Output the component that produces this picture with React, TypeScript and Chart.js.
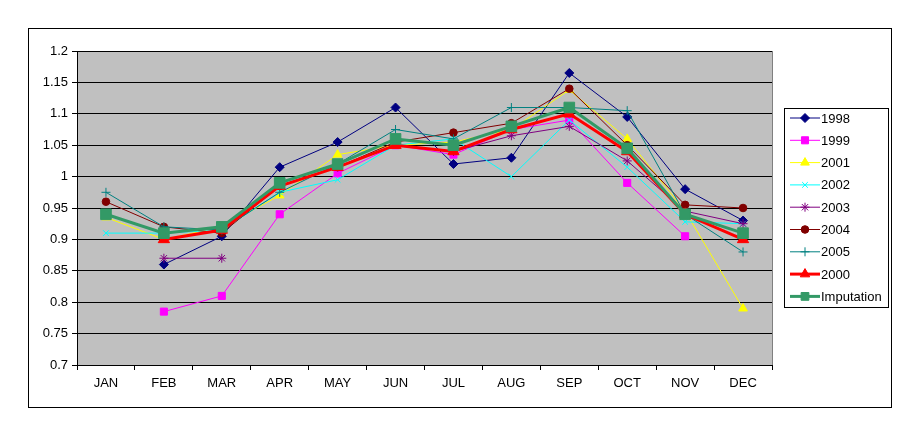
import React, { useEffect, useRef } from "react";
import { Chart, registerables } from "chart.js";
import { drawPoint } from "chart.js/helpers";

Chart.register(...registerables);

const months = ["JAN", "FEB", "MAR", "APR", "MAY", "JUN", "JUL", "AUG", "SEP", "OCT", "NOV", "DEC"];

const y1998 = [null, 0.86, 0.905, 1.015, 1.055, 1.11, 1.02, 1.03, 1.165, 1.095, 0.98, 0.93];
const y1999 = [null, 0.785, 0.81, 0.94, 1.005, 1.05, 1.035, 1.075, 1.09, 0.99, 0.905, null];
const y2001 = [0.935, 0.9, 0.92, 0.97, 1.035, 1.05, 1.055, 1.075, 1.138, 1.06, 0.945, 0.79];
const y2002 = [0.91, 0.91, 0.915, 0.975, 0.995, 1.05, 1.06, 1.0, 1.09, 1.015, 0.928, 0.925];
const y2003 = [null, 0.87, 0.87, null, null, null, 1.04, 1.065, 1.08, 1.025, 0.945, 0.925];
const y2004 = [0.96, 0.92, 0.91, 0.985, 1.015, 1.055, 1.07, 1.085, 1.14, 1.05, 0.955, 0.95];
const y2005 = [0.975, 0.92, 0.915, 0.975, 1.02, 1.075, 1.06, 1.11, 1.11, 1.105, 0.94, 0.88];
const y2000 = [null, 0.9, 0.915, 0.985, 1.015, 1.05, 1.04, 1.075, 1.1, 1.04, 0.94, 0.9];
const imputation = [0.94, 0.91, 0.92, 0.99, 1.02, 1.06, 1.05, 1.08, 1.11, 1.045, 0.94, 0.91];

const seriesNames = ["1998", "1999", "2001", "2002", "2003", "2004", "2005", "2000", "Imputation"];
const seriesData = [y1998, y1999, y2001, y2002, y2003, y2004, y2005, y2000, imputation];
const seriesColors = ["#000080", "#FF00FF", "#FFFF00", "#00FFFF", "#800080", "#800000", "#008080", "#FF0000", "#339966"];
const seriesStyles = ["rectRot", "rect", "triangle", "crossRot", "star", "circle", "cross", "triangle", "rect"];
const seriesRadius = [4.5, 5, 5, 4, 4.5, 3.8, 4.5, 6.5, 7.5];
const seriesWidth = [1, 1, 1, 1, 1, 1, 1, 3, 3];

const FONT = "'Liberation Sans', Arial, sans-serif";

const framePlugin = {
  id: "frame",
  beforeDraw(chart: any) {
    const { ctx, chartArea, width, height } = chart;
    ctx.save();
    ctx.fillStyle = "#FFFFFF";
    ctx.fillRect(0, 0, width, height);
    ctx.strokeStyle = "#000000";
    ctx.lineWidth = 1;
    ctx.strokeRect(28.5, 28.5, 863, 379);
    ctx.fillStyle = "#C0C0C0";
    ctx.fillRect(chartArea.left, chartArea.top, chartArea.right - chartArea.left, chartArea.bottom - chartArea.top);
    ctx.strokeStyle = "#808080";
    ctx.beginPath();
    ctx.moveTo(chartArea.right + 0.5, chartArea.top);
    ctx.lineTo(chartArea.right + 0.5, chartArea.bottom);
    ctx.stroke();
    ctx.restore();
  },
  afterDraw(chart: any) {
    const { ctx } = chart;
    ctx.save();
    ctx.fillStyle = "#FFFFFF";
    ctx.fillRect(784, 108, 104, 199);
    ctx.strokeStyle = "#000000";
    ctx.lineWidth = 1;
    ctx.strokeRect(784.5, 108.5, 104, 199);
    ctx.font = `13px ${FONT}`;
    ctx.textBaseline = "middle";
    ctx.textAlign = "left";
    seriesNames.forEach((name, i) => {
      const y = 118 + i * 22.3;
      ctx.strokeStyle = seriesColors[i];
      ctx.fillStyle = seriesColors[i];
      ctx.lineWidth = seriesWidth[i];
      ctx.beginPath();
      ctx.moveTo(790, y);
      ctx.lineTo(820, y);
      ctx.stroke();
      ctx.lineWidth = 1;
      drawPoint(ctx, { pointStyle: seriesStyles[i], radius: Math.min(seriesRadius[i], 5.5), borderWidth: 1, rotation: 0 } as any, 805, y);
      ctx.fillStyle = "#000000";
      ctx.fillText(name, 821, y + 1);
    });
    ctx.restore();
  },
};

export default function App() {
  const ref = useRef<HTMLCanvasElement | null>(null);
  useEffect(() => {
    if (!ref.current) return;
    const datasets = seriesNames.map((name, i) => ({
      label: name,
      data: seriesData[i],
      borderColor: seriesColors[i],
      backgroundColor: seriesColors[i],
      borderWidth: seriesWidth[i],
      pointStyle: seriesStyles[i],
      pointRadius: seriesRadius[i],
      pointBorderWidth: 1,
      pointBackgroundColor: seriesColors[i],
      pointBorderColor: seriesColors[i],
      tension: 0,
      fill: false,
      spanGaps: false,
      order: seriesNames.length - i,
    }));
    const chart = new Chart(ref.current, {
      type: "line",
      data: { labels: months, datasets },
      plugins: [framePlugin],
      options: {
        animation: false,
        responsive: false,
        maintainAspectRatio: false,
        layout: { padding: { left: 28, right: 148, top: 51, bottom: 19 } },
        plugins: { legend: { display: false }, tooltip: { enabled: false } },
        scales: {
          x: {
            type: "category",
            offset: true,
            afterFit: (s: any) => {
              s.height = 43;
            },
            grid: { offset: true, drawOnChartArea: false, drawTicks: true, tickLength: 5, color: "#000000" },
            border: { display: true, color: "#000000" },
            ticks: { color: "#000000", font: { family: FONT, size: 13 }, padding: 6, maxRotation: 0, autoSkip: false },
          },
          y: {
            min: 0.7,
            max: 1.2,
            afterFit: (s: any) => {
              s.width = 49;
            },
            grid: { color: "#000000", lineWidth: 1, tickLength: 5, drawTicks: true },
            border: { display: true, color: "#000000" },
            ticks: {
              stepSize: 0.05,
              color: "#000000",
              font: { family: FONT, size: 13 },
              padding: 4,
              callback: (v: any) => String(parseFloat(Number(v).toFixed(2))),
            },
          },
        },
      },
    });
    return () => chart.destroy();
  }, []);
  return (
    <div style={{ position: "absolute", left: 0, top: 0, width: 920, height: 427 }}>
      <canvas ref={ref} width={920} height={427} style={{ display: "block", width: 920, height: 427 }} />
    </div>
  );
}
